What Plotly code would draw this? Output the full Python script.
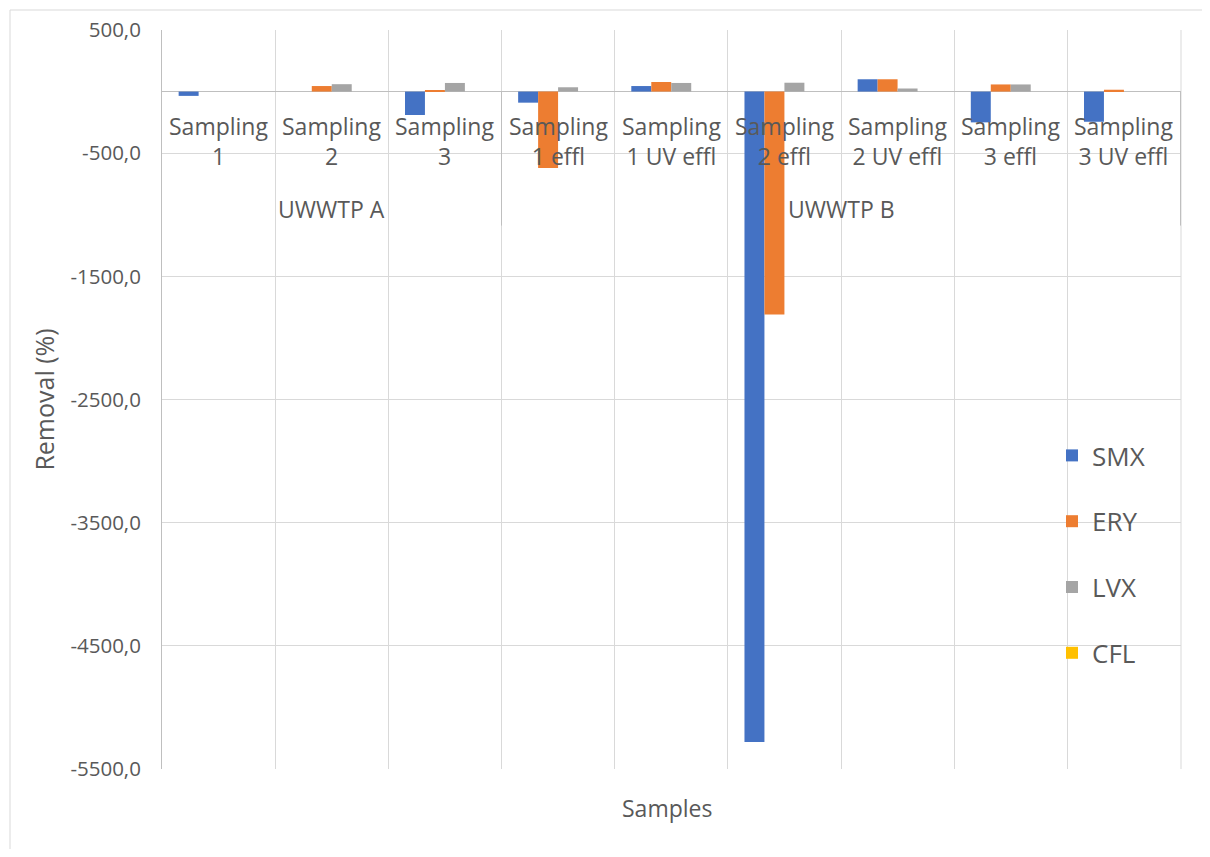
import plotly.graph_objects as go

# ---- data ----
plants = ["UWWTP A"] * 3 + ["UWWTP B"] * 6
samples = ["Sampling 1", "Sampling 2", "Sampling 3",
           "Sampling 1 effl", "Sampling 1 UV effl", "Sampling 2 effl",
           "Sampling 2 UV effl", "Sampling 3 effl", "Sampling 3 UV effl"]
smx = [-35, 0, -190, -90, 45, -5280, 100, -250, -245]
ery = [0, 45, 12, -620, 78, -1810, 100, 58, 15]
lvx = [0, 60, 70, 35, 70, 72, 25, 58, 0]
cfl = [0, 0, 0, 0, 0, 0, 0, 0, 0]
series_names = ["SMX", "ERY", "LVX", "CFL"]
series_values = [smx, ery, lvx, cfl]
colors = ["#4472C4", "#ED7D31", "#A5A5A5", "#FFC000"]
y_tickvals = [500, -500, -1500, -2500, -3500, -4500, -5500]
y_ticktext = ["500,0", "-500,0", "-1500,0", "-2500,0", "-3500,0", "-4500,0", "-5500,0"]

FONT = "Open Sans"
TXT = "#595959"
GRID = "#D9D9D9"
AXIS = "#BFBFBF"

fig = go.Figure()
for name, vals, col in zip(series_names, series_values, colors):
    fig.add_trace(go.Bar(
        x=samples, y=vals, name=name,
        marker=dict(color=col, line=dict(width=0)),
        legendgroup=name,
    ))

# page body has an 8px margin; plot area on screen: x 162..1181, y 30..769
OFF = 8
SL, ST, PW, PH = 162, 30, 1019, 739
W, H = 1210 - 2 * OFF, 857 - 2 * OFF
L, T = SL - OFF, ST - OFF
R, B = W - L - PW, H - T - PH

def px_x(sx):
    return (sx - SL) / PW

def px_y(sy):
    return (ST + PH - sy) / PH

annotations = []
# category labels just under the zero line
for s in samples:
    annotations.append(dict(
        text=s.replace(" ", "<br>", 1), x=s, y=0, xref="x", yref="y",
        xanchor="center", yanchor="top", yshift=-16, showarrow=False,
        font=dict(size=23, color=TXT, family=FONT),
    ))
# group labels and dividers
groups = []
for i, p in enumerate(plants):
    if not groups or groups[-1][0] != p:
        groups.append([p, i, i])
    else:
        groups[-1][2] = i
shapes = []
for p, i0, i1 in groups:
    annotations.append(dict(
        text=p, x=(i0 + i1) / 2, y=0, xref="x", yref="y",
        xanchor="center", yanchor="middle", yshift=-117, showarrow=False,
        font=dict(size=23, color=TXT, family=FONT),
    ))
    shapes.append(dict(
        type="line", xref="x", yref="y", x0=i1 + 0.5, x1=i1 + 0.5,
        ysizemode="pixel", yanchor=0, y0=0, y1=-134,
        line=dict(color=AXIS, width=1),
    ))
# right-hand boundary gridline of the plot area
shapes.append(dict(
    type="line", xref="paper", yref="paper", x0=1, x1=1, y0=0, y1=1,
    line=dict(color=GRID, width=1), layer="below",
))
annotations.append(dict(
    text="Samples", xref="paper", yref="paper",
    x=px_x(667), y=px_y(808), xanchor="center", yanchor="middle",
    showarrow=False, font=dict(size=23, color=TXT, family=FONT),
))
shapes.append(dict(
    type="rect", xref="paper", yref="paper",
    x0=px_x(10), x1=px_x(1400), y0=px_y(1000), y1=px_y(10),
    line=dict(color=GRID, width=1), fillcolor="rgba(0,0,0,0)", layer="below",
))

fig.update_layout(
    width=W, height=H, autosize=False,
    margin=dict(l=L, r=R, t=T, b=B, autoexpand=False),
    paper_bgcolor="white", plot_bgcolor="white",
    font=dict(family=FONT, color=TXT, size=20),
    barmode="group", bargap=0.294, bargroupgap=0,
    showlegend=True,
    legend=dict(
        x=px_x(1052), xanchor="left", y=px_y(432), yanchor="top",
        bgcolor="rgba(0,0,0,0)", font=dict(size=26, color=TXT, family=FONT),
        traceorder="grouped", tracegroupgap=29,
    ),
    xaxis=dict(
        type="category", showticklabels=False, ticks="",
        showline=False, tickson="boundaries",
        showgrid=True, gridcolor=GRID, gridwidth=1, zeroline=False,
    ),
    yaxis=dict(
        range=[-5500, 500], tickvals=y_tickvals, ticktext=y_ticktext,
        showgrid=True, gridcolor=GRID, gridwidth=1,
        zeroline=True, zerolinecolor=AXIS, zerolinewidth=1,
        showline=True, linecolor=AXIS, linewidth=1,
        tickfont=dict(size=20.5, color=TXT, family=FONT),
        ticks="", ticklabelstandoff=16,
        title=dict(text="Removal (%)", font=dict(size=25, color=TXT, family=FONT), standoff=8),
    ),
    annotations=annotations,
    shapes=shapes,
)

fig.write_html("out.html")
